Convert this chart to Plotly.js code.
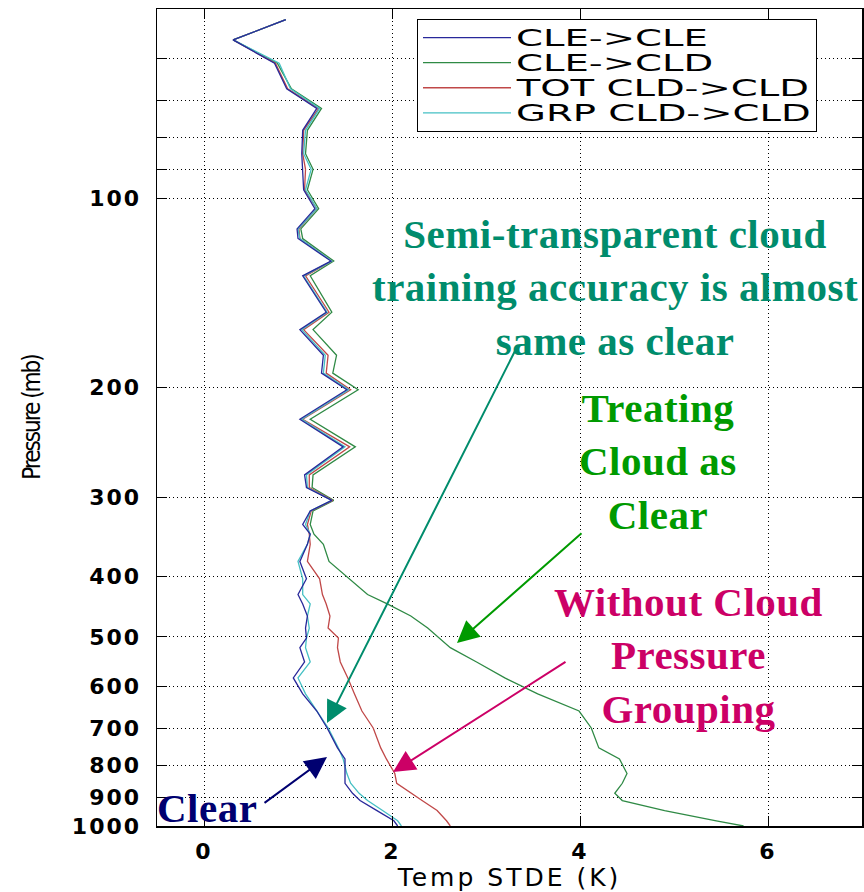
<!DOCTYPE html>
<html>
<head>
<meta charset="utf-8">
<script src="https://cdn.plot.ly/plotly-3.0.1.min.js"></script>
<style>
  html, body { margin: 0; padding: 0; background: #ffffff; }
  #chart { width: 864px; height: 892px; }
  .legendtext { transform: scale(2.27, 1.3); transform-box: fill-box; transform-origin: 0 50%; }
  .ytick text, .xtick text { letter-spacing: 2px; }
  .g-xtitle text { letter-spacing: 3px; }
  .g-ytitle text { letter-spacing: -2px; }
  .annotation-text { letter-spacing: 0.5px; }
</style>
</head>
<body>
<div id="chart"></div>
<script>
// Pressure levels (mb)
const pressure = [52,56,61,67,72,78,85,90,97,104,112,116,126,133,152,162,178,190,202,225,249,276,289,303,315,331,343,356,379,404,428,443,463,484,502,520,548,581,616,656,698,751,782,825,855,887,911,945,981,1000];

// Temperature STDE (K) per series
const cleCle = [0.87,0.31,0.75,0.88,1.20,1.05,1.04,1.05,1.06,1.18,0.99,1.00,1.35,1.05,1.30,1.02,1.27,1.25,1.52,1.02,1.48,1.07,1.09,1.36,1.13,1.05,1.13,1.10,1.02,1.09,1.00,1.05,1.10,1.08,1.09,1.02,1.07,0.95,1.05,1.20,1.31,1.42,1.50,1.50,1.50,1.58,1.66,1.84,2.02,2.06];
const cleCld = [0.87,0.31,0.78,0.93,1.25,1.10,1.08,1.16,1.10,1.22,1.03,1.05,1.38,1.13,1.36,1.16,1.41,1.37,1.64,1.13,1.61,1.16,1.15,1.38,1.16,1.13,1.17,1.27,1.33,1.55,1.74,1.95,2.20,2.38,2.50,2.62,2.90,3.20,3.55,3.99,4.12,4.20,4.42,4.50,4.45,4.37,4.45,4.90,5.45,5.74];
const totCld = [0.87,0.31,0.76,0.89,1.22,1.06,1.05,1.08,1.07,1.20,1.01,1.02,1.36,1.08,1.33,1.06,1.32,1.30,1.56,1.05,1.55,1.12,1.12,1.37,1.14,1.10,1.12,1.13,1.10,1.23,1.26,1.30,1.34,1.32,1.43,1.42,1.45,1.53,1.60,1.68,1.80,1.88,1.94,2.03,2.05,2.20,2.32,2.48,2.58,2.62];
const grpCld = [0.87,0.31,0.80,0.92,1.23,1.08,1.06,1.14,1.08,1.20,1.00,1.02,1.36,1.06,1.31,1.04,1.29,1.27,1.54,1.04,1.50,1.09,1.10,1.36,1.13,1.08,1.13,1.10,1.00,1.05,1.05,1.13,1.10,1.12,1.09,1.08,1.13,1.00,1.08,1.20,1.32,1.43,1.48,1.52,1.56,1.65,1.74,1.90,2.06,2.10];

const seriesNames = ['CLE->CLE', 'CLE->CLD', 'TOT CLD->CLD', 'GRP CLD->CLD'];

// Axis ticks
const yTickVals = [60,70,80,90,100,200,300,400,500,600,700,800,900,1000];
const yTickText = ['','','','','100','200','300','400','500','600','700','800','900','1000'];
const xTickVals = [0,2,4,6];

// Annotation texts
const noteSemi = 'Semi-transparent cloud<br>training accuracy is almost<br>same as clear';
const noteTreat = 'Treating<br>Cloud as<br>Clear';
const noteWithout = 'Without Cloud<br>Pressure<br>Grouping';
const noteClear = 'Clear';

function line(name, x, color, rank) {
  return {
    type: 'scatter', mode: 'lines', name: name,
    x: x, y: pressure,
    line: { color: color, width: 1.3 },
    legendrank: rank
  };
}

const traces = [
  line(seriesNames[1], cleCld, '#2f8a45', 2),
  line(seriesNames[2], totCld, '#c04848', 3),
  line(seriesNames[3], grpCld, '#45c0c4', 4),
  line(seriesNames[0], cleCle, '#28289a', 1)
];

const serif = 'Liberation Serif, Times New Roman, serif';
const L = 157, R = 862, T = 9, B = 826;
function px(x) { return (x - L) / (R - L); }
function py(y) { return (B - y) / (B - T); }

function textNote(text, cx, cy, color) {
  return {
    xref: 'paper', yref: 'paper', x: px(cx), y: py(cy),
    text: text, showarrow: false, xanchor: 'center', yanchor: 'middle',
    align: 'center',
    font: { family: serif, size: 41, color: color, weight: 'bold' }
  };
}
function arrowNote(tipX, tipY, tailX, tailY, color) {
  return {
    xref: 'paper', yref: 'paper', x: px(tipX), y: py(tipY),
    text: '', showarrow: true,
    ax: tailX - tipX, ay: tailY - tipY, axref: 'pixel', ayref: 'pixel',
    arrowhead: 2, arrowsize: 2.2, arrowwidth: 2, arrowcolor: color
  };
}

const axisFont = { family: 'DejaVu Sans, Verdana, sans-serif', size: 22, color: '#000', weight: 'bold' };

const layout = {
  width: 864, height: 892,
  margin: { l: L, r: 864 - R, t: T, b: 892 - B },
  paper_bgcolor: '#ffffff', plot_bgcolor: '#ffffff',
  showlegend: true,
  legend: {
    x: px(417), y: py(19), xanchor: 'left', yanchor: 'top',
    bgcolor: '#ffffff', bordercolor: '#000000', borderwidth: 1,
    itemwidth: 88, entrywidth: 330,
    font: { family: 'DejaVu Sans, Verdana, sans-serif', size: 17, color: '#000' }
  },
  xaxis: {
    range: [-0.5, 7],
    tickvals: xTickVals,
    ticks: 'inside', ticklen: 10, tickcolor: '#000',
    showline: true, linecolor: '#000', linewidth: 1.5, mirror: 'ticks',
    showgrid: true, gridcolor: '#000', gridwidth: 1, griddash: '1px,3px',
    zeroline: false,
    tickfont: axisFont,
    ticklabelstandoff: 5,
    title: { text: 'Temp STDE (K)', font: { family: 'DejaVu Sans, Verdana, sans-serif', size: 25, color: '#000' }, standoff: 10 }
  },
  yaxis: {
    type: 'log',
    range: [Math.log10(1000), Math.log10(50)],
    tickvals: yTickVals, ticktext: yTickText,
    ticks: 'inside', ticklen: 10, tickcolor: '#000',
    showline: true, linecolor: '#000', linewidth: 1.5, mirror: 'ticks',
    showgrid: true, gridcolor: '#000', gridwidth: 1, griddash: '1px,3px',
    zeroline: false,
    tickfont: axisFont,
    ticklabelstandoff: 10,
    title: { text: 'Pressure (mb)', font: { family: 'Liberation Sans Narrow, DejaVu Sans Condensed, Arial Narrow, sans-serif', size: 24, color: '#000' }, standoff: 24 }
  },
  annotations: [
    textNote(noteSemi, 615, 287, '#008c6c'),
    textNote(noteTreat, 658, 462, '#009a00'),
    textNote(noteWithout, 688, 655, '#cc0066'),
    textNote(noteClear, 207, 808, '#000070'),
    arrowNote(327, 723, 517, 347, '#008c6c'),
    arrowNote(457, 643, 583, 532, '#009a00'),
    arrowNote(393, 772, 567, 661, '#cc0066'),
    arrowNote(327, 757, 263, 804, '#000070')
  ]
};

Plotly.newPlot('chart', traces, layout, { displayModeBar: false, staticPlot: true });
</script>
</body>
</html>
